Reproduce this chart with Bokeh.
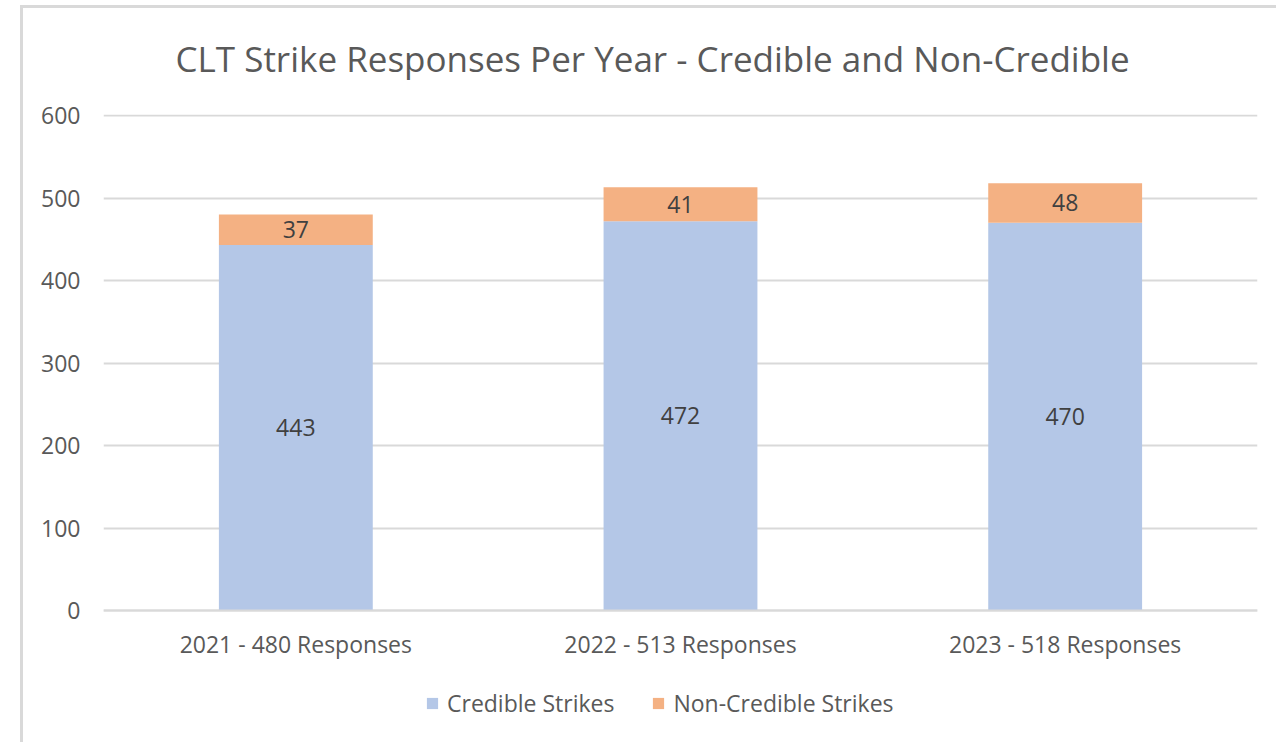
from bokeh.plotting import figure
from bokeh.models import ColumnDataSource, Legend, LegendItem, LabelSet
from bokeh.core.properties import value
from bokeh.embed import file_html
from bokeh.resources import INLINE

categories = ["2021 - 480 Responses", "2022 - 513 Responses", "2023 - 518 Responses"]
credible = [443, 472, 470]
non_credible = [37, 41, 48]
series_names = ["Credible Strikes", "Non-Credible Strikes"]
y_ticks = [0, 100, 200, 300, 400, 500, 600]

FONT = "Open Sans"
TXT = "#595959"
GRID = "#d9d9d9"
C1 = "#b4c7e7"
C2 = "#f4b183"

top_total = [a + b for a, b in zip(credible, non_credible)]
src = ColumnDataSource(dict(
    cat=categories,
    cred=credible,
    non=non_credible,
    total=top_total,
    cred_mid=[c / 2 for c in credible],
    non_mid=[c + n / 2 for c, n in zip(credible, non_credible)],
    cred_lbl=[str(v) for v in credible],
    non_lbl=[str(v) for v in non_credible],
))

K = 496 / 600.0  # px per unit
p = figure(x_range=categories, y_range=(-(742 - 610) / K, 600 + 1 / K), width=1276, height=742,
           output_backend="svg", toolbar_location=None,
           min_border_left=103, min_border_right=19, min_border_top=114, min_border_bottom=0)
p.outline_line_color = None
p.background_fill_color = "white"
p.border_fill_alpha = 0
p.styles = {
    "background-color": "white",
    "background-image": "linear-gradient(#d9d9d9,#d9d9d9), linear-gradient(#d9d9d9,#d9d9d9)",
    "background-position": "20px 5px, 20px 5px",
    "background-size": "3px 100%, 100% 3px",
    "background-repeat": "no-repeat",
}

r1 = p.vbar(x="cat", top="cred", bottom=0, width=0.4, source=src, color=C1, line_color=None)
r2 = p.vbar(x="cat", top="total", bottom="cred", width=0.4, source=src, color=C2, line_color=None)

for col_y, col_t in (("cred_mid", "cred_lbl"), ("non_mid", "non_lbl")):
    p.add_layout(LabelSet(x="cat", y=col_y, text=col_t, source=src,
                          text_align="center", text_baseline="middle",
                          text_font=value(FONT), text_font_size="23px", text_color="#404040"))

p.yaxis.ticker = y_ticks
p.yaxis.axis_line_color = None
p.yaxis.major_tick_line_color = None
p.yaxis.minor_tick_line_color = None
p.yaxis.major_label_text_font = FONT
p.yaxis.major_label_text_font_size = "23px"
p.yaxis.major_label_text_color = TXT
p.yaxis.major_label_standoff = 17

p.xaxis.fixed_location = 0
p.xaxis.axis_line_color = GRID
p.xaxis.axis_line_width = 2
p.xaxis.major_tick_line_color = None
p.xaxis.minor_tick_line_color = None
p.xaxis.major_label_text_font = FONT
p.xaxis.major_label_text_font_size = "23px"
p.xaxis.major_label_text_color = TXT
p.xaxis.major_label_standoff = 11

p.xgrid.grid_line_color = None
p.ygrid.grid_line_color = GRID
p.ygrid.grid_line_width = 2
p.ygrid.ticker = y_ticks

legend = Legend(items=[LegendItem(label=series_names[0], renderers=[r1]),
                       LegendItem(label=series_names[1], renderers=[r2])],
                orientation="horizontal", location=(322, 23),
                label_text_font=FONT, label_text_font_size="23px", label_text_color=TXT,
                glyph_width=14, glyph_height=14, spacing=37, label_standoff=8,
                border_line_color=None, background_fill_alpha=0, margin=0, padding=0)
p.add_layout(legend, "center")

p.title.text = "CLT Strike Responses Per Year - Credible and Non-Credible"
p.title.text_font = FONT
p.title.text_font_size = "35px"
p.title.text_font_style = "normal"
p.title.text_color = TXT
p.title.align = "left"
p.title.offset = 72
p.title.standoff = 65

open("out.html", "w").write(file_html(p, INLINE))
